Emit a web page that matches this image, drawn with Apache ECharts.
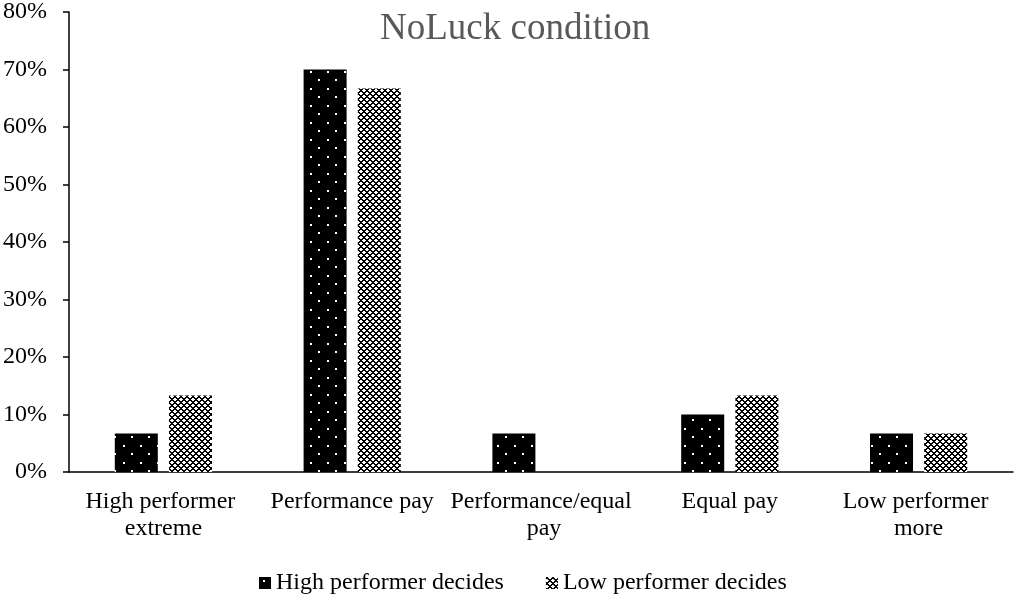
<!DOCTYPE html>
<html>
<head>
<meta charset="utf-8">
<script src="https://cdn.jsdelivr.net/npm/echarts@6/dist/echarts.min.js"></script>
<style>
  html, body { margin: 0; padding: 0; background: #fff; }
  #chart { width: 1016px; height: 594px; }
</style>
</head>
<body>
<div id="chart"></div>
<script>
// data (percent)
var categories = ['High performer extreme', 'Performance pay', 'Performance/equal pay', 'Equal pay', 'Low performer more'];
var seriesNames = ['High performer decides', 'Low performer decides'];
var highDecides = [6.7, 70, 6.7, 10, 6.7];
var lowDecides = [13.3, 66.7, 0, 13.3, 6.7];
var yTicks = [0, 10, 20, 30, 40, 50, 60, 70, 80];

var FONT = '"Liberation Serif", "Times New Roman", serif';

// black with white dots
function dotPattern() {
    var c = document.createElement('canvas');
    c.width = 17; c.height = 17;
    var ctx = c.getContext('2d');
    ctx.fillStyle = '#000';
    ctx.fillRect(0, 0, 17, 17);
    ctx.fillStyle = '#fff';
    ctx.fillRect(4, 3, 2, 2);
    ctx.fillRect(12, 11, 2, 2);
    return c;
}

// small diamond / cross pattern
function crossPattern() {
    var c = document.createElement('canvas');
    c.width = 6; c.height = 6;
    var ctx = c.getContext('2d');
    ctx.fillStyle = '#fff';
    ctx.fillRect(0, 0, 6, 6);
    ctx.fillStyle = '#000';
    for (var x = 0; x < 6; x++) {
        for (var y = 0; y < 6; y++) {
            var d1 = ((x - y) % 6 + 6) % 6;
            var d2 = (x + y) % 6;
            if (d1 === 0 || d2 === 0 || d1 === 1 || d2 === 1) {
                ctx.fillRect(x, y, 1, 1);
            }
        }
    }
    return c;
}

var chart = echarts.init(document.getElementById('chart'));

var option = {
    backgroundColor: '#fff',
    animation: false,
    title: {
        text: 'NoLuck condition',
        left: 375,
        top: 6,
        textStyle: { fontFamily: FONT, fontSize: 37, fontWeight: 'normal', color: '#595959' }
    },
    legend: {
        data: seriesNames,
        left: 254,
        top: 566,
        itemWidth: 12,
        itemHeight: 12,
        itemGap: 42,
        icon: 'rect',
        textStyle: { fontFamily: FONT, fontSize: 24, color: '#000' }
    },
    grid: { left: 67, right: 3, top: 11, bottom: 122 },
    xAxis: {
        type: 'category',
        data: categories,
        axisLine: { lineStyle: { color: '#000', width: 1.5 } },
        axisTick: { show: false },
        axisLabel: {
            interval: 0,
            margin: 16,
            width: 185,
            overflow: 'break',
            lineHeight: 27,
            fontFamily: FONT,
            fontSize: 24,
            color: '#000'
        }
    },
    yAxis: {
        type: 'value',
        min: yTicks[0],
        max: yTicks[yTicks.length - 1],
        interval: 10,
        splitLine: { show: false },
        axisLine: { show: true, lineStyle: { color: '#000', width: 1.5 } },
        axisTick: { show: true, length: 6, lineStyle: { color: '#000', width: 1.5 } },
        axisLabel: {
            margin: 22,
            formatter: '{value}%',
            fontFamily: FONT,
            fontSize: 24,
            color: '#000'
        }
    },
    series: [
        {
            name: seriesNames[0],
            type: 'bar',
            data: highDecides,
            barWidth: 43,
            barGap: '26%',
            itemStyle: { color: { image: dotPattern(), repeat: 'repeat' } }
        },
        {
            name: seriesNames[1],
            type: 'bar',
            data: lowDecides,
            barWidth: 43,
            itemStyle: { color: { image: crossPattern(), repeat: 'repeat' } }
        }
    ]
};

chart.setOption(option);
</script>
</body>
</html>
